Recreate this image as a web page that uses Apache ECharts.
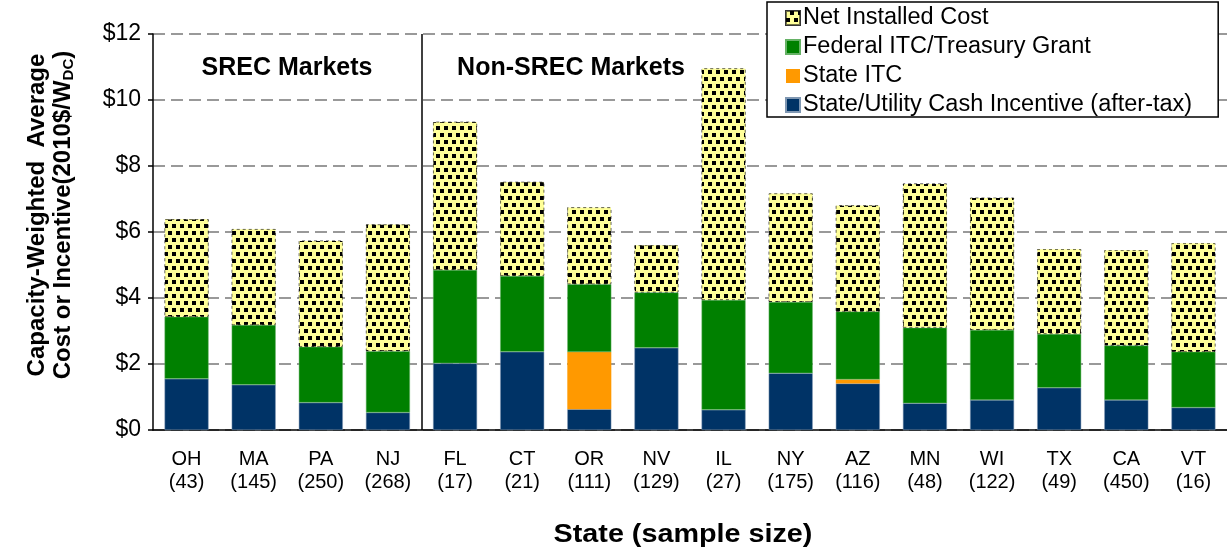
<!DOCTYPE html>
<html>
<head>
<meta charset="utf-8">
<script src="https://cdn.jsdelivr.net/npm/echarts@6/dist/echarts.min.js"></script>
<style>
  html, body { margin: 0; padding: 0; background: #fff; }
  #chart { width: 1227px; height: 551px; }
</style>
</head>
<body>
<div id="chart"></div>
<script>
// states and sample sizes
const states = ['OH', 'MA', 'PA', 'NJ', 'FL', 'CT', 'OR', 'NV', 'IL', 'NY', 'AZ', 'MN', 'WI', 'TX', 'CA', 'VT']
const sampleSizes = [43, 145, 250, 268, 17, 21, 111, 129, 27, 175, 116, 48, 122, 49, 450, 16]
// first 4 states are SREC markets, divider goes after them
const srecCount = 4

// $/W (2010$), stacked bottom -> top
const cashIncentive = [1.55, 1.37, 0.83, 0.53, 2.02, 2.37, 0.63, 2.49, 0.61, 1.72, 1.41, 0.81, 0.91, 1.28, 0.91, 0.68]
const stateItc      = [0, 0, 0, 0, 0, 0, 1.73, 0, 0, 0, 0.12, 0, 0, 0, 0, 0]
const federalItc    = [1.88, 1.81, 1.69, 1.86, 2.83, 2.30, 2.06, 1.68, 3.33, 2.16, 2.06, 2.29, 2.12, 1.63, 1.65, 1.69]
const netCost       = [2.96, 2.91, 3.22, 3.84, 4.49, 2.85, 2.33, 1.43, 7.02, 3.29, 3.22, 4.37, 4.01, 2.57, 2.89, 3.29]

const FONT = '"Liberation Sans", Arial, sans-serif'

const chart = echarts.init(document.getElementById('chart'))

const barBase = {
  type: 'bar',
  stack: 'total',
  barWidth: 44,
  xAxisIndex: 0,
  emphasis: { disabled: true },
}

chart.setOption({
  animation: false,
  textStyle: { fontFamily: FONT, color: '#000' },
  grid: { left: 153, right: -3, top: 34, bottom: 121 },
  legend: {
    orient: 'vertical',
    left: 767,
    top: 2,
    padding: [4, 26, 0, 18],
    itemGap: 5,
    itemWidth: 14,
    itemHeight: 14,
    icon: 'rect',
    borderColor: '#000',
    borderWidth: 1.5,
    backgroundColor: '#fff',
    textStyle: { fontFamily: FONT, fontSize: 23.5, color: '#000', padding: [0, 0, 0, -2] },
    data: ['Net Installed Cost', 'Federal ITC/Treasury Grant', 'State ITC', 'State/Utility Cash Incentive (after-tax)'],
  },
  xAxis: [
    {
      type: 'category',
      data: states,
      axisLine: { lineStyle: { color: '#000', width: 1.5 } },
      axisTick: { length: 6, lineStyle: { color: '#000', width: 1.5 } },
      axisLabel: {
        color: '#000',
        fontFamily: FONT,
        fontSize: 20,
        lineHeight: 23,
        margin: 18,
        formatter: (v, i) => v + '\n(' + sampleSizes[i] + ')',
      },
    },
    // hidden helper axis so the market divider can sit on a category boundary
    { type: 'value', min: 0, max: states.length, show: false },
  ],
  yAxis: {
    type: 'value',
    min: 0,
    max: 12,
    interval: 2,
    name: 'Capacity-Weighted  Average\nCost or Incentive(2010$/W{sub|DC})',
    nameLocation: 'middle',
    nameRotate: 90,
    nameGap: 77,
    nameTextStyle: {
      fontFamily: FONT,
      fontWeight: 'bold',
      fontSize: 24,
      lineHeight: 26,
      color: '#000',
      padding: [0, 0, 0, 34],
      rich: {
        sub: { fontFamily: FONT, fontWeight: 'bold', fontSize: 15, color: '#000', verticalAlign: 'bottom', lineHeight: 26 },
      },
    },
    axisLine: { show: true, lineStyle: { color: '#000', width: 1.5 } },
    axisTick: { show: true, length: 5, lineStyle: { color: '#000', width: 1.5 } },
    axisLabel: { color: '#000', fontFamily: FONT, fontSize: 23, margin: 12, formatter: (v) => '$' + v },
    splitLine: { lineStyle: { color: '#999', width: 2, type: [12, 6] } },
  },
  graphic: [
    { type: 'text', x: 287, y: 68, style: { text: 'SREC Markets', font: 'bold 25px ' + FONT, fill: '#000', align: 'center', verticalAlign: 'middle' } },
    { type: 'text', x: 571, y: 68, style: { text: 'Non-SREC Markets', font: 'bold 25px ' + FONT, fill: '#000', align: 'center', verticalAlign: 'middle' } },
    { type: 'text', x: 683, y: 535, scaleX: 1.15, style: { text: 'State (sample size)', font: 'bold 25px ' + FONT, fill: '#000', align: 'center', verticalAlign: 'middle' } },
  ],
  series: [
    {
      ...barBase,
      name: 'State/Utility Cash Incentive (after-tax)',
      data: cashIncentive,
      itemStyle: { color: '#003366', borderColor: '#7f97b2', borderWidth: 0.5 },
    },
    {
      ...barBase,
      name: 'State ITC',
      data: stateItc,
      itemStyle: { color: '#ff9900' },
    },
    {
      ...barBase,
      name: 'Federal ITC/Treasury Grant',
      data: federalItc,
      itemStyle: { color: '#008000', borderColor: '#66b266', borderWidth: 0.5 },
    },
    {
      ...barBase,
      name: 'Net Installed Cost',
      data: netCost,
      itemStyle: {
        color: '#ffff99',
        borderColor: 'rgba(0,0,0,0.55)',
        borderWidth: 0.8,
        borderType: [3, 3],
        decal: {
          symbol: 'rect',
          color: '#000',
          backgroundColor: '#ffff99',
          symbolSize: 1,
          dashArrayX: [[4, 4], [0, 4, 4, 0]],
          dashArrayY: [3.5, 3],
          rotation: 0,
        },
      },
    },
    {
      // SREC / non-SREC divider
      type: 'line',
      xAxisIndex: 1,
      data: [],
      silent: true,
      markLine: {
        symbol: 'none',
        silent: true,
        animation: false,
        label: { show: false },
        lineStyle: { color: '#000', width: 1.5, type: 'solid' },
        data: [{ xAxis: srecCount }],
      },
    },
  ],
})
</script>
</body>
</html>
